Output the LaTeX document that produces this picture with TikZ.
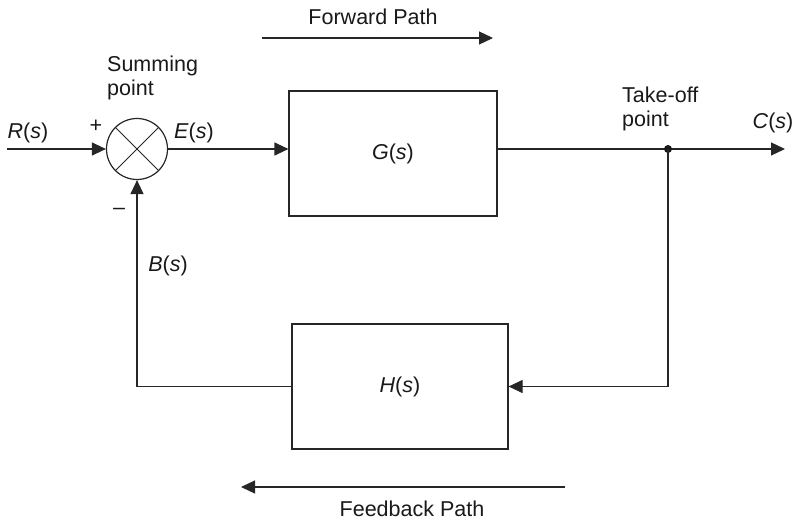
\documentclass[tikz,border=0pt]{standalone}
\usepackage{fontspec}
\setmainfont{Liberation Sans}
\usetikzlibrary{arrows.meta}
\begin{document}
\begin{tikzpicture}[x=1pt,y=-1pt,
  every node/.style={font=\fontsize{21.5}{24.5}\selectfont, text=black!90},
  wire/.style={line width=1.2pt, draw=black!85},
  arr/.style={wire, -{Triangle[length=14pt,width=13pt]}},
  blockbox/.style={draw=black!85, line width=1.2pt, inner sep=0pt},
  lbl/.style={inner sep=0pt}]
\useasboundingbox (0,0) rectangle (799,521);
% summing junction
\node[circle, draw=black!85, line width=1.2pt, minimum size=61pt, inner sep=0pt] (sum) at (137,149) {};
\draw[wire, line width=1pt] (sum.45) -- (sum.225) (sum.135) -- (sum.315);
% blocks
\node[blockbox, minimum width=208pt, minimum height=125pt] (G) at (393,153.5) {\textit{G}(\textit{s})};
\node[blockbox, minimum width=216pt, minimum height=125pt] (H) at (400,386.5) {\textit{H}(\textit{s})};
% coordinates
\coordinate (rin) at (7,149);
\coordinate (tk) at (668,149);
\coordinate (cout) at (785,149);
\coordinate (fpa) at (262,38);
\coordinate (fpb) at (493,38);
\coordinate (fba) at (565,487);
\coordinate (fbb) at (241,487);
% connectors
\draw[arr] (rin) -- (sum.west);
\draw[arr] (sum.east) -- (sum.east -| G.west);
\draw[arr] (tk -| G.east) -- (cout);
\fill[black!90] (tk) circle (4pt);
\draw[arr] (tk) |- (H.east);
\draw[arr] (H.west) -| (sum.south);
\draw[arr] (fpa) -- (fpb);
\draw[arr] (fba) -- (fbb);
% labels
\node[lbl] (lR) at (28,133) {\textit{R}(\textit{s})};
\node[lbl] (lplus) at (96,126) {+};
\node[lbl] (lminus) at (119,211) {\textendash};
\node[lbl] (lE) at (194,133) {\textit{E}(\textit{s})};
\node[lbl, anchor=west, align=left] (lsum) at (107,78) {Summing\\point};
\node[lbl, anchor=west, align=left] (ltk) at (622,109) {Take-off\\point};
\node[lbl] (lC) at (773,123) {\textit{C}(\textit{s})};
\node[lbl] (lB) at (168,266) {\textit{B}(\textit{s})};
\node[lbl] (lfp) at (373,17) {Forward Path};
\node[lbl] (lfb) at (412,509) {Feedback Path};
\end{tikzpicture}
\end{document}
